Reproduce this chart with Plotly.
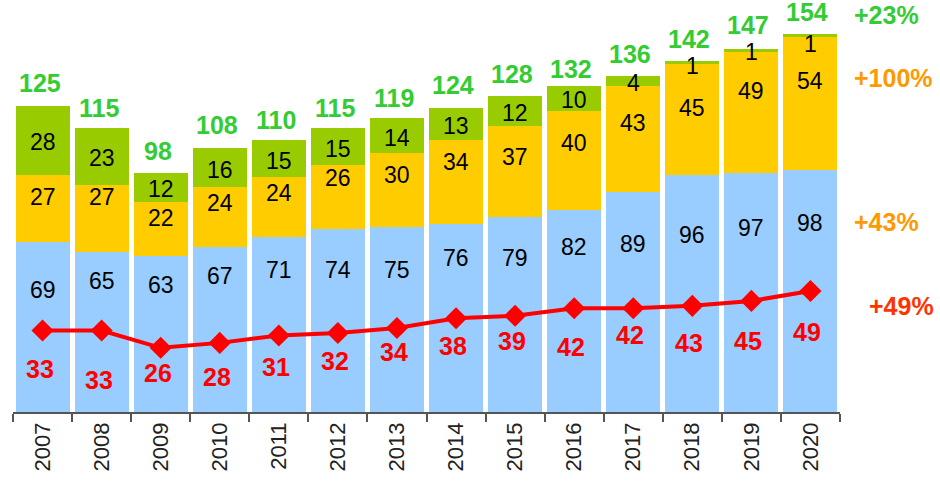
import plotly.graph_objects as go

years = ["2007", "2008", "2009", "2010", "2011", "2012", "2013", "2014",
         "2015", "2016", "2017", "2018", "2019", "2020"]
blue_vals = [69, 65, 63, 67, 71, 74, 75, 76, 79, 82, 89, 96, 97, 98]
yellow_vals = [27, 27, 22, 24, 24, 26, 30, 34, 37, 40, 43, 45, 49, 54]
green_vals = [28, 23, 12, 16, 15, 15, 14, 13, 12, 10, 4, 1, 1, 1]
totals = [125, 115, 98, 108, 110, 115, 119, 124, 128, 132, 136, 142, 147, 154]
red_vals = [33, 33, 26, 28, 31, 32, 34, 38, 39, 42, 42, 43, 45, 49]

growth_labels = ["+23%", "+100%", "+43%", "+49%"]

# label style offsets (pixels)
blue_shift = [-48, -29, -29, -29, -33, -41, -43, -34, -41, -37, -52, -60, -55, -53]
yellow_shift = [11, 21, 11, 14, 14, 19, 15, 20, 14, 17, 16, 11, 21, 22]
green_shift = [-2, -2, -2, -2, -2, -2, -2, -2, -2, -2, -2, -3, -2, -8]
red_shift = [-38, -49, -25, -34, -32, -28, -24, -28, -25, -39, -27, -37, -40, -41]
total_shift = [20, 20, 19, 20, 20, 20, 20, 21, 22, 17, 22, 22, 24, 20]

C_BLUE = "#99CCFF"
C_YEL = "#FFCC00"
C_GRN = "#99CC00"
C_TOT = "#33CC33"
C_RED = "#FF0000"
FONT = "Liberation Sans, Arial, sans-serif"

fig = go.Figure()
fig.add_trace(go.Bar(x=years, y=blue_vals, marker=dict(color=C_BLUE, line=dict(width=0)), hoverinfo="skip"))
fig.add_trace(go.Bar(x=years, y=yellow_vals, marker=dict(color=C_YEL, line=dict(width=0)), hoverinfo="skip"))
fig.add_trace(go.Bar(x=years, y=green_vals, marker=dict(color=C_GRN, line=dict(width=0)), hoverinfo="skip"))
fig.add_trace(go.Scatter(x=years, y=red_vals, mode="lines+markers",
                         line=dict(color=C_RED, width=4),
                         marker=dict(symbol="diamond", size=17, color=C_RED),
                         hoverinfo="skip", cliponaxis=False))

ann = []
for i, yr in enumerate(years):
    b, yv, g, t, r = blue_vals[i], yellow_vals[i], green_vals[i], totals[i], red_vals[i]
    ann.append(dict(x=i, y=b, text=str(b), showarrow=False, yshift=blue_shift[i],
                    font=dict(size=23, color="black", family=FONT)))
    ann.append(dict(x=i, y=b + yv / 2, text=str(yv), showarrow=False, yshift=yellow_shift[i],
                    font=dict(size=23, color="black", family=FONT)))
    ann.append(dict(x=i, y=b + yv + g / 2, text=str(g), showarrow=False, yshift=green_shift[i],
                    font=dict(size=23, color="black", family=FONT)))
    ann.append(dict(x=i, y=t, text="<b>%d</b>" % t, showarrow=False, yshift=total_shift[i], xshift=-3,
                    font=dict(size=25, color=C_TOT, family=FONT)))
    ann.append(dict(x=i, y=r, text="<b>%d</b>" % r, showarrow=False, yshift=red_shift[i], xshift=-3,
                    font=dict(size=25, color=C_RED, family=FONT)))

side = [(growth_labels[0], C_TOT, 1.0145, 1.005),
        (growth_labels[1], "#FF9900", 1.0145, 0.846),
        (growth_labels[2], "#FF9900", 1.0145, 0.481),
        (growth_labels[3], "#FF3300", 1.033, 0.268)]
for txt, col, px, py in side:
    ann.append(dict(xref="paper", yref="paper", x=px, y=py, xanchor="left", yanchor="middle",
                    text="<b>%s</b>" % txt, showarrow=False,
                    font=dict(size=25, color=col, family=FONT)))

fig.update_layout(
    width=940, height=485,
    margin=dict(l=13, r=100, t=17, b=73),
    barmode="stack", bargap=0.085,
    showlegend=False,
    plot_bgcolor="white", paper_bgcolor="white",
    annotations=ann,
    xaxis=dict(type="category", range=[-0.5, len(years) - 0.5], autorange=False,
               showgrid=False, showline=True, linecolor="#555555", linewidth=1.5,
               ticks="outside", tickson="boundaries", ticklen=8, tickcolor="#555555", tickwidth=1.5,
               tickangle=-90, tickfont=dict(size=22, color="#222222", family=FONT)),
    yaxis=dict(range=[0, 160], showgrid=False, showline=False, showticklabels=False,
               zeroline=False, ticks=""),
)

fig.write_html("out.html", config={"displayModeBar": False},
               post_script="document.body.style.margin='0px';document.body.style.overflow='hidden';")
